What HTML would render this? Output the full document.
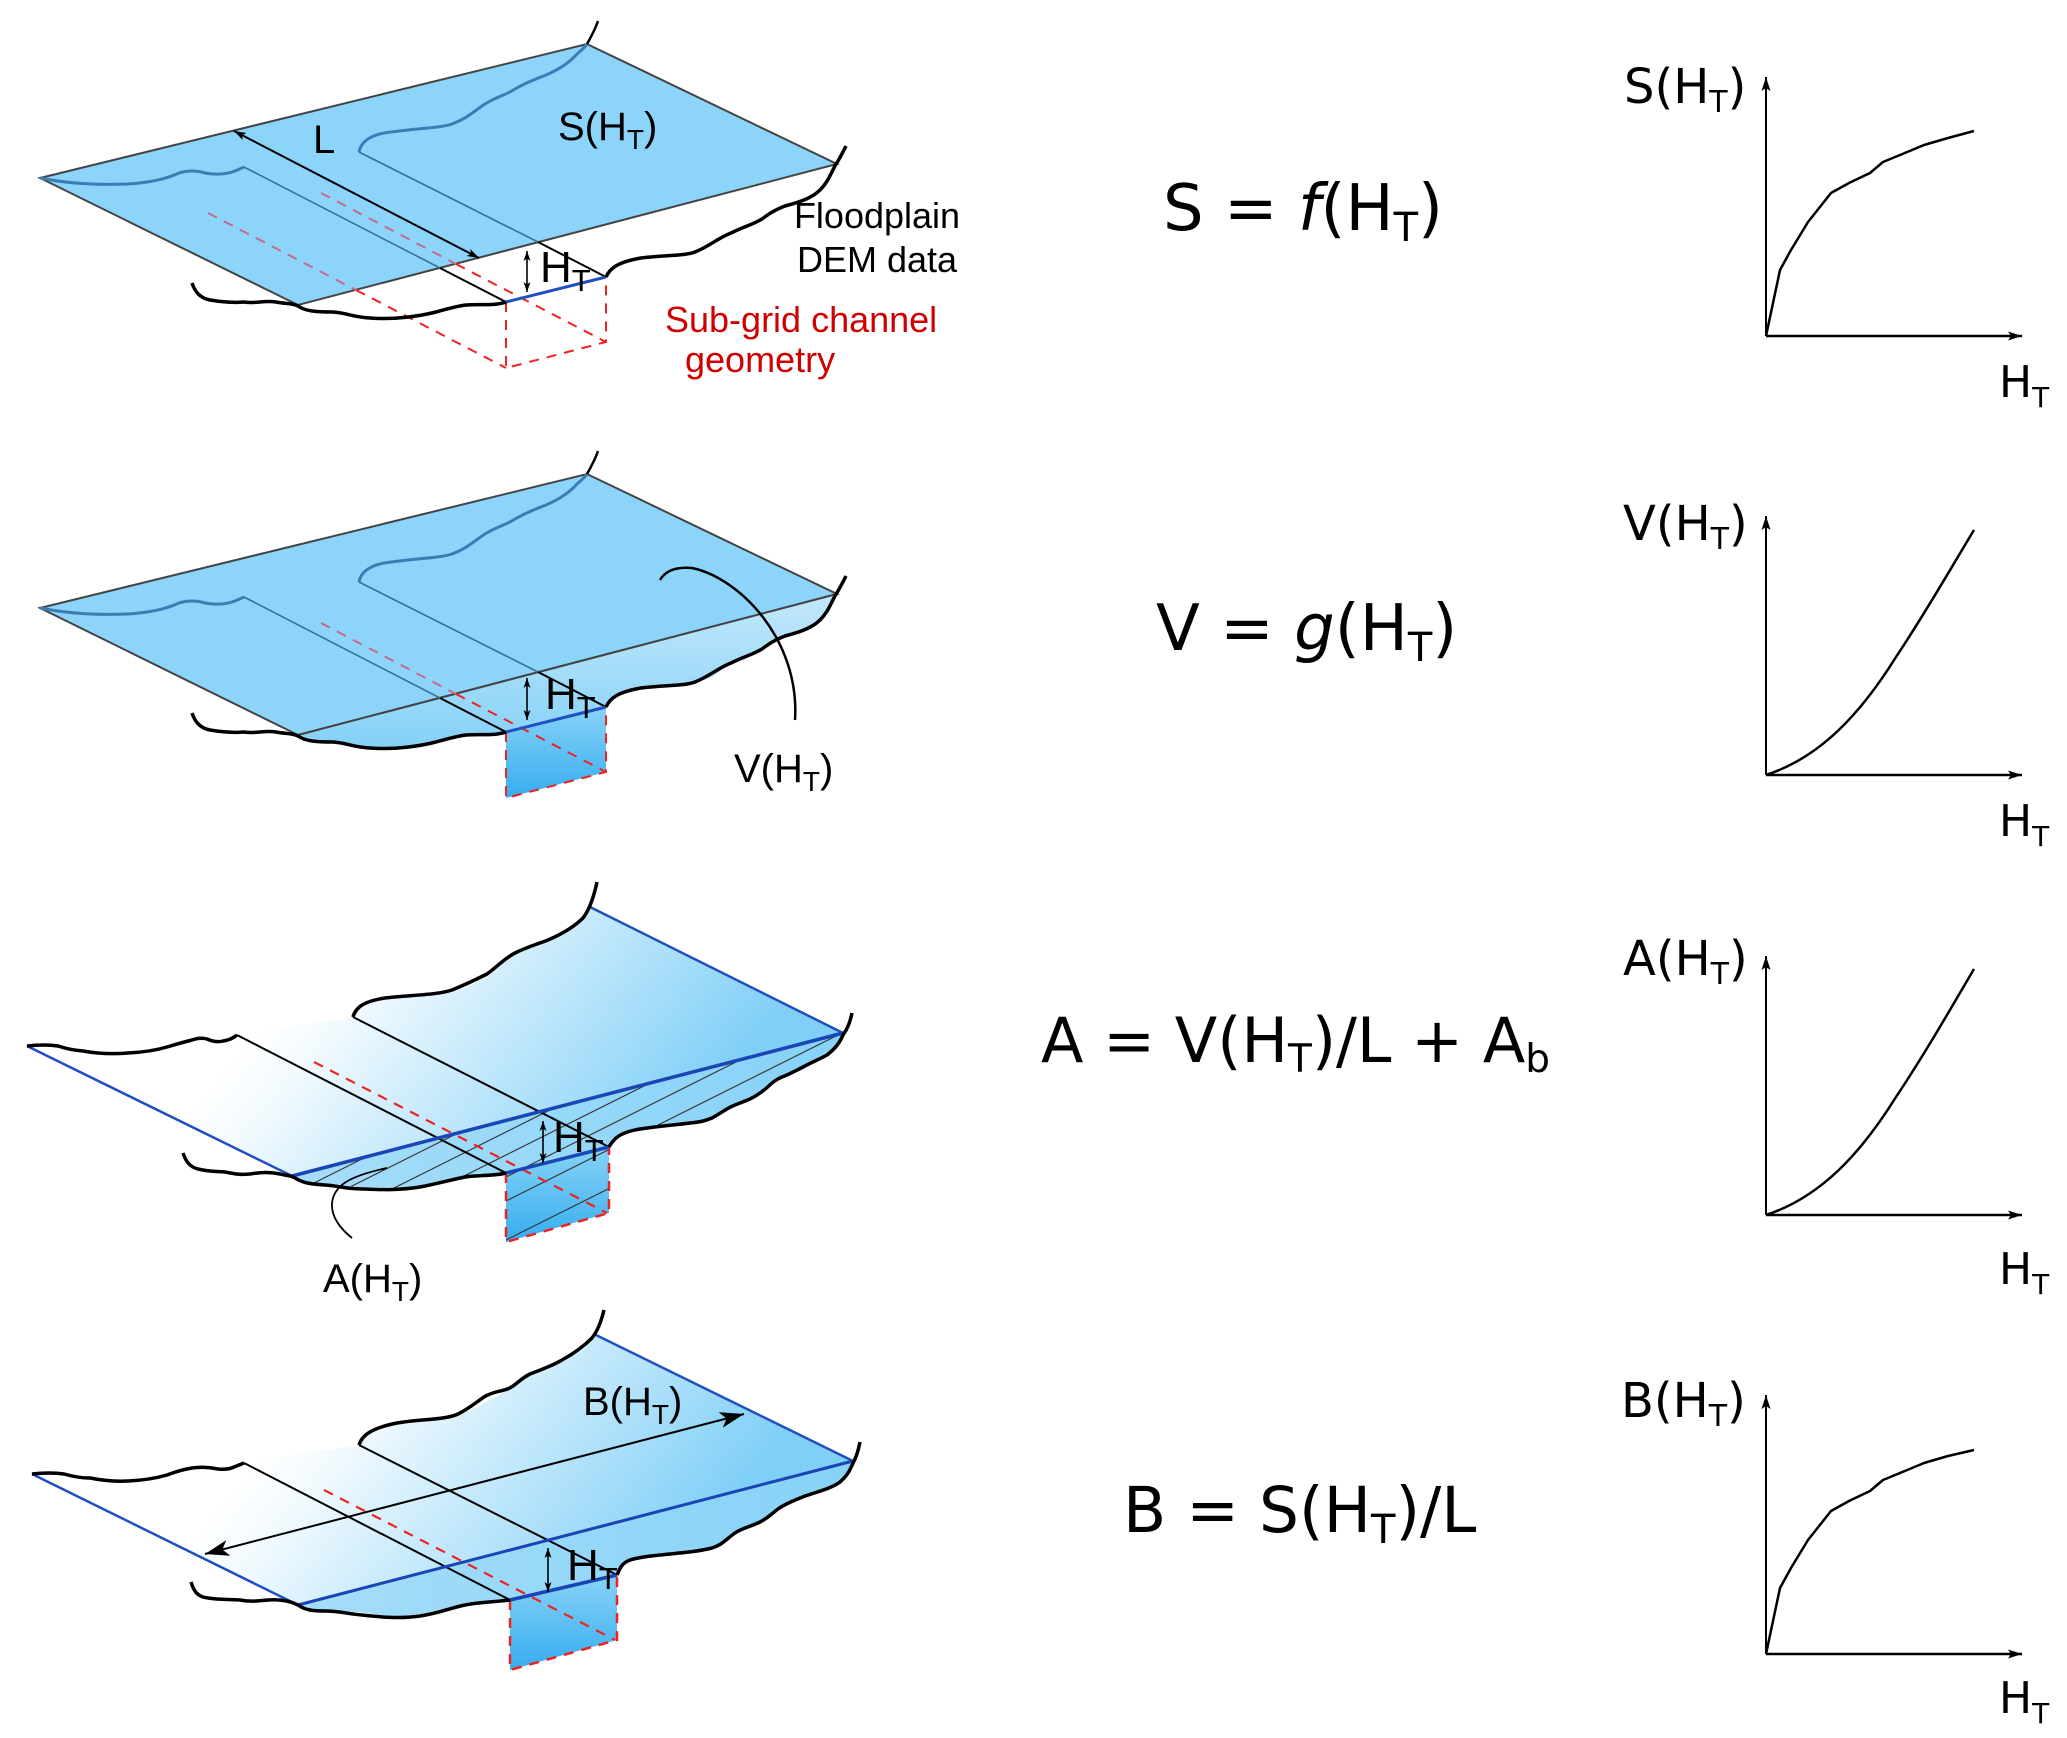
<!DOCTYPE html>
<html>
<head>
<meta charset="utf-8">
<style>
html,body{margin:0;padding:0;background:#fff;}
svg{display:block;}
.ls{font-family:"Liberation Sans",Arial,sans-serif;}
.dv{font-family:"DejaVu Sans","Liberation Sans",sans-serif;}
</style>
</head>
<body>
<svg xmlns="http://www.w3.org/2000/svg" width="2067" height="1738" viewBox="0 0 2067 1738">
<defs>
  <marker id="aS" viewBox="0 0 12 8" refX="12" refY="4" markerWidth="12" markerHeight="8" orient="auto-start-reverse" markerUnits="userSpaceOnUse">
    <path d="M0,0 L12,4 L0,8 L3,4 Z" fill="#000"/>
  </marker>
  <marker id="aT" viewBox="0 0 10 7" refX="10" refY="3.5" markerWidth="10" markerHeight="7" orient="auto-start-reverse" markerUnits="userSpaceOnUse">
    <path d="M0,0 L10,3.5 L0,7 L2.5,3.5 Z" fill="#000"/>
  </marker>
  <marker id="aX" viewBox="0 0 14 9" refX="14" refY="4.5" markerWidth="14" markerHeight="9" orient="auto-start-reverse" markerUnits="userSpaceOnUse">
    <path d="M0,0 L14,4.5 L0,9 L3,4.5 Z" fill="#000"/>
  </marker>
  <marker id="aB" viewBox="0 0 24 16" refX="24" refY="8" markerWidth="24" markerHeight="16" orient="auto-start-reverse" markerUnits="userSpaceOnUse">
    <path d="M0,0 L24,8 L0,16 L6,8 Z" fill="#000"/>
  </marker>
  <linearGradient id="gFront" x1="0" y1="0" x2="0" y2="1">
    <stop offset="0" stop-color="#c4e8fb"/>
    <stop offset="1" stop-color="#84d1f7"/>
  </linearGradient>
  <linearGradient id="gChan" x1="0" y1="0" x2="0" y2="1">
    <stop offset="0" stop-color="#88d3f7"/>
    <stop offset="1" stop-color="#36adef"/>
  </linearGradient>
  <linearGradient id="gSurf3" gradientUnits="userSpaceOnUse" x1="340" y1="930" x2="640" y2="1180">
    <stop offset="0" stop-color="#ffffff"/>
    <stop offset="0.15" stop-color="#f2fafe"/>
    <stop offset="1" stop-color="#80cff7"/>
  </linearGradient>
  <linearGradient id="gSurf4" gradientUnits="userSpaceOnUse" x1="340" y1="1360" x2="640" y2="1610">
    <stop offset="0" stop-color="#ffffff"/>
    <stop offset="0.15" stop-color="#f2fafe"/>
    <stop offset="1" stop-color="#80cff7"/>
  </linearGradient>
  <linearGradient id="gCross" x1="0" y1="0" x2="1" y2="0">
    <stop offset="0" stop-color="#a6ddf9"/>
    <stop offset="1" stop-color="#86d2f7"/>
  </linearGradient>
  <clipPath id="hatch3">
    <polygon points="292,1176 843,1033 837,1047 827,1055 807,1065 787,1075 773,1080 760,1093 747,1100 733,1105 720,1112 707,1120 693,1122 660,1127 633,1130 618,1137 610,1145 609,1147 506,1173 487,1175 449,1182 410,1188 359,1187 308,1182"/>
    <polygon points="506,1173 609,1147 609,1213 506,1242"/>
  </clipPath>
</defs>

<!-- ================= PANEL 1 ================= -->
<g>
  <path d="M40,178 L587,44 L837,164 L298,305 Z" fill="#8cd4fa" stroke="#444" stroke-width="2"/>
  <path d="M40,178 Q80,186 128,184 Q160,182 179,173 Q192,169 205,173 Q222,176 235,171 L244,167" fill="none" stroke="#3a7db5" stroke-width="3"/>
  <path d="M359,152 C361,141 372,134 391,132 C420,128 440,128 452,124 C468,118 474,111 485,104 C496,97 506,95 515,89 C527,82 536,79 546,75 C560,69 570,62 577,54 C583,49 585,47 587,44" fill="none" stroke="#3a7db5" stroke-width="3"/>
  <path d="M587,44 C591,37 595,30 598,21" fill="none" stroke="#000" stroke-width="2.5"/>
  <path d="M244,167 L440,268" stroke="#3c6f96" stroke-width="1.6"/>
  <path d="M440,268 L506,302" stroke="#000" stroke-width="2"/>
  <path d="M359,152 L538,242" stroke="#3c6f96" stroke-width="1.6"/>
  <path d="M538,242 L606,277" stroke="#000" stroke-width="2"/>
  <g fill="none" stroke-width="2" stroke-dasharray="10 8">
    <path d="M208,213 L356,290" stroke="#c46b8a"/>
    <path d="M321,193 L456,264" stroke="#c46b8a"/>
    <path d="M356,290 L506,368" stroke="#ee2222"/>
    <path d="M456,264 L606,342" stroke="#ee2222"/>
    <path d="M506,302 L506,368 L606,342 L606,277" stroke="#ee2222"/>
  </g>
  <path d="M506,302 L606,277" stroke="#1f4fc0" stroke-width="3"/>
  <path d="M192,283 C195,292 200,298 210,300 C222,302 232,303 244,302 C256,304 264,300 276,302 C286,304 292,303 298,306 C305,311 315,312 333,312 C348,313 352,317 370,318 C395,320 420,316 436,312 C450,308 458,306 466,305 C480,304 495,306 506,302" fill="none" stroke="#000" stroke-width="3.5"/>
  <path d="M606,277 C610,268 618,262 641,258 C665,255 685,256 695,252 C710,246 718,238 731,233 C745,226 752,225 762,219 C770,213 775,210 785,206 C800,202 812,198 820,190 C828,182 830,175 835,166 C840,158 843,152 846,146" fill="none" stroke="#000" stroke-width="3.5"/>
  <line x1="234" y1="131" x2="479" y2="258" stroke="#000" stroke-width="2" marker-start="url(#aS)" marker-end="url(#aS)"/>
  <line x1="527" y1="251" x2="527" y2="292" stroke="#000" stroke-width="1.6" marker-start="url(#aT)" marker-end="url(#aT)"/>
  <text class="ls" x="313" y="153" font-size="40">L</text>
  <text class="ls" x="558" y="140" font-size="40">S(H<tspan dy="9" font-size="28">T</tspan><tspan dy="-9">)</tspan></text>
  <text class="ls" x="540" y="282" font-size="44">H<tspan dy="9" font-size="31">T</tspan></text>
  <text class="ls" x="877" y="228" font-size="36" text-anchor="middle">Floodplain</text>
  <text class="ls" x="877" y="272" font-size="36" text-anchor="middle">DEM data</text>
  <text class="ls" x="665" y="332" font-size="36" fill="#d00000">Sub-grid channel</text>
  <text class="ls" x="685" y="372" font-size="36" fill="#d00000">geometry</text>
</g>

<!-- ================= PANEL 2 ================= -->
<g transform="translate(0,430)">
  <path d="M40,178 L587,44 L837,164 L298,305 Z" fill="#8cd4fa" stroke="#444" stroke-width="2"/>
  <polygon points="298,305 837,164 833,170 820,191 795,203 769,213 756,223 731,233 712,247 692,254 641,258 615,267 606,277 506,302 494,305 462,306 436,312 397,318 359,316 333,312 308,311" fill="url(#gFront)"/>
  <polygon points="506,302 606,277 606,342 506,368" fill="url(#gChan)"/>
  <path d="M298,305 L837,164" stroke="#444" stroke-width="2"/>
  <path d="M40,178 Q80,186 128,184 Q160,182 179,173 Q192,169 205,173 Q222,176 235,171 L244,167" fill="none" stroke="#3a7db5" stroke-width="3"/>
  <path d="M359,152 C361,141 372,134 391,132 C420,128 440,128 452,124 C468,118 474,111 485,104 C496,97 506,95 515,89 C527,82 536,79 546,75 C560,69 570,62 577,54 C583,49 585,47 587,44" fill="none" stroke="#3a7db5" stroke-width="3"/>
  <path d="M587,44 C591,37 595,30 598,21" fill="none" stroke="#000" stroke-width="2.5"/>
  <path d="M244,167 L440,268" stroke="#3c6f96" stroke-width="1.6"/>
  <path d="M440,268 L506,302" stroke="#000" stroke-width="2"/>
  <path d="M359,152 L538,242" stroke="#3c6f96" stroke-width="1.6"/>
  <path d="M538,242 L606,277" stroke="#000" stroke-width="2"/>
  <g fill="none" stroke-width="2" stroke-dasharray="10 8">
    <path d="M321,193 L456,264" stroke="#c46b8a"/>
    <path d="M456,264 L606,342" stroke="#ee2222"/>
    <path d="M506,302 L506,368 L606,342 L606,277" stroke="#ee2222"/>
  </g>
  <path d="M506,302 L606,277" stroke="#1f4fc0" stroke-width="3"/>
  <path d="M192,283 C195,292 200,298 210,300 C222,302 232,303 244,302 C256,304 264,300 276,302 C286,304 292,303 298,306 C305,311 315,312 333,312 C348,313 352,317 370,318 C395,320 420,316 436,312 C450,308 458,306 466,305 C480,304 495,306 506,302" fill="none" stroke="#000" stroke-width="3.5"/>
  <path d="M606,277 C610,268 618,262 641,258 C665,255 685,256 695,252 C710,246 718,238 731,233 C745,226 752,225 762,219 C770,213 775,210 785,206 C800,202 812,198 820,190 C828,182 830,175 835,166 C840,158 843,152 846,146" fill="none" stroke="#000" stroke-width="3.5"/>
</g>
<line x1="527" y1="678" x2="527" y2="720" stroke="#000" stroke-width="1.6" marker-start="url(#aT)" marker-end="url(#aT)"/>
<path d="M660,580 Q668,566 692,568 C740,578 800,640 795,720" fill="none" stroke="#000" stroke-width="2.5"/>
<text class="ls" x="545" y="709" font-size="44">H<tspan dy="9" font-size="31">T</tspan></text>
<text class="ls" x="734" y="782" font-size="40">V(H<tspan dy="9" font-size="28">T</tspan><tspan dy="-9">)</tspan></text>

<!-- ================= PANEL 3 ================= -->
<g>
  <polygon points="27,1046 58,1046 83,1051 128,1053 167,1047 192,1040 205,1039 221,1042 232,1038 237,1035 353,1017 359,1010 369,1003 397,998 449,993 468,987 487,977 513,953 545,942 564,933 583,920 590,907 843,1033 837,1047 827,1055 807,1065 787,1075 773,1080 760,1093 747,1100 733,1105 720,1112 707,1120 693,1122 660,1127 633,1130 618,1137 610,1145 609,1147 506,1173 487,1175 449,1182 410,1188 359,1187 308,1182 292,1176" fill="url(#gSurf3)"/>
  <polygon points="292,1176 843,1033 837,1047 827,1055 807,1065 787,1075 773,1080 760,1093 747,1100 733,1105 720,1112 707,1120 693,1122 660,1127 633,1130 618,1137 610,1145 609,1147 506,1173 487,1175 449,1182 410,1188 359,1187 308,1182" fill="url(#gCross)"/>
  <polygon points="506,1173 609,1147 609,1213 506,1242" fill="url(#gChan)"/>
  <g clip-path="url(#hatch3)" stroke="#333" stroke-width="1.1">
    <line x1="280" y1="1200" x2="860" y2="910"/>
    <line x1="280" y1="1222" x2="860" y2="932"/>
    <line x1="280" y1="1245" x2="860" y2="955"/>
    <line x1="280" y1="1268" x2="860" y2="978"/>
    <line x1="280" y1="1290" x2="860" y2="1000"/>
    <line x1="280" y1="1314" x2="860" y2="1024"/>
    <line x1="280" y1="1353" x2="860" y2="1063"/>
  </g>
  <path d="M237,1035 L506,1173" stroke="#000" stroke-width="2"/>
  <path d="M353,1017 L609,1147" stroke="#000" stroke-width="2"/>
  <path d="M314,1062 L607,1213" fill="none" stroke="#ee2222" stroke-width="2.2" stroke-dasharray="10 8"/>
  <path d="M506,1173 L506,1242 L609,1213 L609,1147" fill="none" stroke="#ee2222" stroke-width="2.5" stroke-dasharray="10 8"/>
  <path d="M27,1046 L292,1176" stroke="#1f4fc0" stroke-width="2.5"/>
  <path d="M590,907 L843,1033" stroke="#1f4fc0" stroke-width="2.5"/>
  <path d="M292,1176 L843,1033" stroke="#1a45b5" stroke-width="3.5"/>
  <path d="M506,1173 L609,1147" stroke="#1a45b5" stroke-width="3.5"/>
  <path d="M27,1046 Q45,1044 58,1046 Q70,1050 83,1051 Q105,1055 128,1053 Q150,1052 167,1047 Q180,1043 192,1040 Q200,1037 207,1039 Q216,1043 223,1041 Q231,1040 237,1035" fill="none" stroke="#000" stroke-width="3.5"/>
  <path d="M353,1017 C356,1006 366,1001 385,998 C410,995 438,995 452,990 C467,984 475,980 487,974 C498,966 505,958 515,953 C527,947 535,945 548,940 C562,934 574,927 583,918 C590,909 594,896 597,882" fill="none" stroke="#000" stroke-width="3.5"/>
  <path d="M852,1013 C850,1022 848,1028 843,1035 C840,1042 836,1048 827,1055 C818,1060 812,1062 805,1066 C795,1071 790,1074 782,1077 C772,1081 768,1088 760,1093 C752,1099 745,1101 735,1105 C725,1109 720,1114 712,1118 C705,1121 700,1122 690,1123 C675,1125 660,1126 640,1129 C628,1131 620,1134 615,1139 C612,1142 610,1145 609,1147" fill="none" stroke="#000" stroke-width="3.5"/>
  <path d="M183,1153 C186,1162 190,1167 198,1169 C210,1172 215,1171 225,1172 C235,1174 240,1175 250,1174 C262,1172 270,1172 280,1174 C287,1176 290,1175 295,1178 C303,1183 310,1184 325,1185 C340,1186 345,1189 365,1189 C385,1190 400,1190 420,1187 C440,1183 450,1180 465,1177 C480,1175 495,1176 506,1173" fill="none" stroke="#000" stroke-width="3.5"/>
  <path d="M387,1168 C350,1176 334,1185 332,1203 C331,1218 342,1230 352,1238" fill="none" stroke="#000" stroke-width="1.8"/>
  <line x1="543" y1="1121" x2="543" y2="1163" stroke="#000" stroke-width="1.6" marker-start="url(#aT)" marker-end="url(#aT)"/>
  <text class="ls" x="553" y="1152" font-size="44">H<tspan dy="9" font-size="31">T</tspan></text>
  <text class="ls" x="323" y="1292" font-size="40">A(H<tspan dy="9" font-size="28">T</tspan><tspan dy="-9">)</tspan></text>
</g>

<!-- ================= PANEL 4 ================= -->
<g>
  <polygon points="32,1474 64,1474 90,1478 128,1481 167,1475 192,1468 218,1469 234,1467 244,1463 359,1445 369,1433 397,1423 455,1417 481,1405 513,1387 526,1377 558,1363 583,1350 596,1335 853,1461 846,1477 833,1488 801,1497 779,1507 763,1520 737,1530 718,1545 692,1552 641,1557 625,1563 617,1575 510,1600 474,1604 449,1610 397,1617 359,1612 314,1610 298,1605" fill="url(#gSurf4)"/>
  <polygon points="298,1605 853,1461 846,1477 833,1488 801,1497 779,1507 763,1520 737,1530 718,1545 692,1552 641,1557 625,1563 617,1575 510,1600 474,1604 449,1610 397,1617 359,1612 314,1610" fill="url(#gCross)"/>
  <polygon points="510,1600 617,1575 617,1640 510,1670" fill="url(#gChan)"/>
  <path d="M244,1463 L510,1600" stroke="#000" stroke-width="2"/>
  <path d="M359,1445 L617,1575" stroke="#000" stroke-width="2"/>
  <path d="M324,1490 L615,1640" fill="none" stroke="#ee2222" stroke-width="2.2" stroke-dasharray="10 8"/>
  <path d="M510,1600 L510,1670 L617,1640 L617,1575" fill="none" stroke="#ee2222" stroke-width="2.5" stroke-dasharray="10 8"/>
  <path d="M32,1474 L298,1605" stroke="#1f4fc0" stroke-width="2.5"/>
  <path d="M596,1335 L853,1461" stroke="#1f4fc0" stroke-width="2.5"/>
  <path d="M298,1605 L853,1461" stroke="#1a45b5" stroke-width="3"/>
  <path d="M510,1600 L617,1575" stroke="#1a45b5" stroke-width="3.5"/>
  <path d="M32,1474 Q50,1472 64,1474 Q78,1478 90,1478 Q110,1482 128,1481 Q150,1480 167,1475 Q180,1470 192,1468 Q205,1466 218,1469 Q228,1470 234,1467 L244,1463" fill="none" stroke="#000" stroke-width="3.5"/>
  <path d="M359,1445 C362,1435 372,1428 397,1423 C420,1419 445,1420 458,1414 C470,1408 475,1403 484,1397 C495,1390 505,1392 513,1386 C520,1381 522,1378 530,1374 C545,1368 552,1366 562,1360 C575,1353 585,1345 592,1338 C598,1330 601,1322 604,1310" fill="none" stroke="#000" stroke-width="3.5"/>
  <path d="M860,1442 C858,1452 856,1458 853,1463 C850,1470 848,1475 840,1482 C832,1488 820,1491 805,1496 C795,1500 785,1504 778,1509 C770,1515 768,1518 760,1522 C750,1527 742,1528 735,1533 C725,1540 722,1545 712,1548 C700,1551 690,1552 670,1554 C650,1556 640,1557 630,1560 C622,1563 620,1568 617,1575" fill="none" stroke="#000" stroke-width="3.5"/>
  <path d="M191,1582 C194,1592 198,1597 208,1598 C220,1600 230,1599 240,1600 C250,1602 258,1601 268,1600 C280,1599 290,1601 298,1605 C305,1610 312,1611 325,1611 C340,1611 348,1614 362,1615 C380,1617 400,1619 420,1616 C440,1613 450,1608 465,1605 C480,1602 495,1602 510,1600" fill="none" stroke="#000" stroke-width="3.5"/>
  <line x1="205" y1="1554" x2="744" y2="1414" stroke="#000" stroke-width="2" marker-start="url(#aB)" marker-end="url(#aB)"/>
  <line x1="548" y1="1548" x2="548" y2="1592" stroke="#000" stroke-width="1.6" marker-start="url(#aT)" marker-end="url(#aT)"/>
  <text class="ls" x="583" y="1415" font-size="40">B(H<tspan dy="9" font-size="28">T</tspan><tspan dy="-9">)</tspan></text>
  <text class="ls" x="567" y="1580" font-size="44">H<tspan dy="9" font-size="31">T</tspan></text>
</g>

<!-- ================= FORMULAS ================= -->
<text class="dv" x="1163" y="230" font-size="64">S = <tspan font-style="italic">f</tspan>(H<tspan dy="11" font-size="40">T</tspan><tspan dy="-11">)</tspan></text>
<text class="dv" x="1156" y="650" font-size="64">V = <tspan font-style="italic">g</tspan>(H<tspan dy="11" font-size="40">T</tspan><tspan dy="-11">)</tspan></text>
<text class="dv" x="1041" y="1062" font-size="62">A = V(H<tspan dy="10" font-size="39">T</tspan><tspan dy="-10">)/L + A</tspan><tspan dy="10" font-size="39">b</tspan></text>
<text class="dv" x="1123" y="1532" font-size="63">B = S(H<tspan dy="11" font-size="40">T</tspan><tspan dy="-11">)/L</tspan></text>

<!-- ================= GRAPHS ================= -->
<g fill="none" stroke="#000">
  <!-- graph 1 -->
  <line x1="1766" y1="336" x2="1766" y2="77" stroke-width="2" marker-end="url(#aX)"/>
  <line x1="1766" y1="336" x2="2022" y2="336" stroke-width="2.5" marker-end="url(#aX)"/>
  <path transform="translate(1766,336)" d="M0,0 L14,-66 L25,-86 L42,-114 L65,-143 L83,-153 L104,-163 L117,-174 L134,-181 L158,-191 L182,-198 L208,-205" stroke-width="2.5" stroke-linejoin="round"/>
  <!-- graph 2 -->
  <line x1="1766" y1="775" x2="1766" y2="516" stroke-width="2" marker-end="url(#aX)"/>
  <line x1="1766" y1="775" x2="2022" y2="775" stroke-width="2.5" marker-end="url(#aX)"/>
  <path transform="translate(1766,775)" d="M0,0 C55,-18 95,-62 130,-118 C160,-163 185,-207 208,-245" stroke-width="2.5"/>
  <!-- graph 3 -->
  <line x1="1766" y1="1215" x2="1766" y2="956" stroke-width="2" marker-end="url(#aX)"/>
  <line x1="1766" y1="1215" x2="2022" y2="1215" stroke-width="2.5" marker-end="url(#aX)"/>
  <path transform="translate(1766,1215)" d="M0,0 C55,-18 95,-62 130,-118 C160,-163 185,-207 208,-246" stroke-width="2.5"/>
  <!-- graph 4 -->
  <line x1="1766" y1="1654" x2="1766" y2="1395" stroke-width="2" marker-end="url(#aX)"/>
  <line x1="1766" y1="1654" x2="2022" y2="1654" stroke-width="2.5" marker-end="url(#aX)"/>
  <path transform="translate(1766,1654)" d="M0,0 L14,-66 L25,-86 L42,-114 L65,-143 L83,-153 L104,-163 L117,-174 L134,-181 L158,-191 L182,-198 L208,-204" stroke-width="2.5" stroke-linejoin="round"/>
</g>
<text class="dv" x="1624" y="103" font-size="48">S(H<tspan dy="9" font-size="30">T</tspan><tspan dy="-9">)</tspan></text>
<text class="dv" x="1623" y="540" font-size="48">V(H<tspan dy="9" font-size="30">T</tspan><tspan dy="-9">)</tspan></text>
<text class="dv" x="1623" y="975" font-size="48">A(H<tspan dy="9" font-size="30">T</tspan><tspan dy="-9">)</tspan></text>
<text class="dv" x="1621" y="1417" font-size="48">B(H<tspan dy="9" font-size="30">T</tspan><tspan dy="-9">)</tspan></text>
<text class="dv" x="1999" y="397" font-size="44">H<tspan dy="10" font-size="28">T</tspan></text>
<text class="dv" x="1999" y="836" font-size="44">H<tspan dy="10" font-size="28">T</tspan></text>
<text class="dv" x="1999" y="1284" font-size="44">H<tspan dy="10" font-size="28">T</tspan></text>
<text class="dv" x="1999" y="1713" font-size="44">H<tspan dy="10" font-size="28">T</tspan></text>
</svg>
</body>
</html>
